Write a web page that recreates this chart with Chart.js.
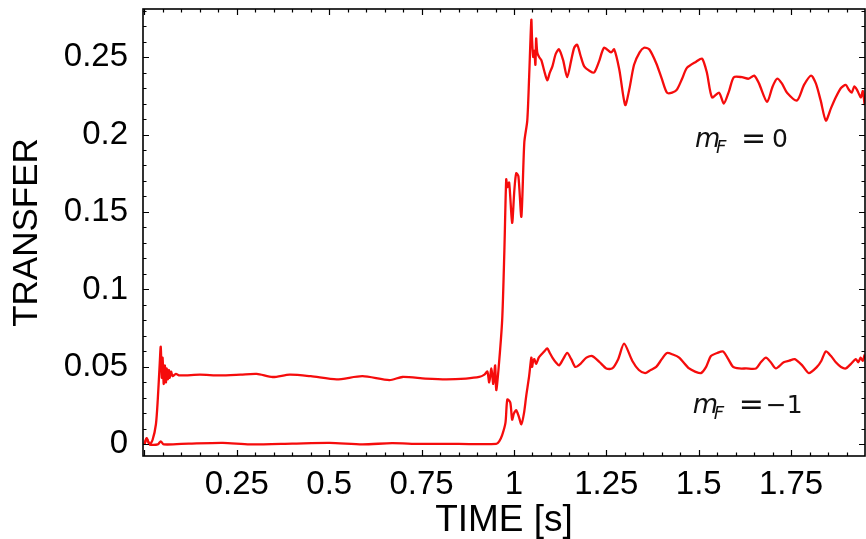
<!DOCTYPE html>
<html>
<head>
<meta charset="utf-8">
<script src="https://cdn.jsdelivr.net/npm/chart.js@4.4.1/dist/chart.umd.min.js"></script>
<style>
  body { margin: 0; background: #fff; }
  canvas { display: block; }
</style>
</head>
<body>
<canvas id="myChart" width="866" height="539"></canvas>
<script>
const timeMf0 = [0.000, 0.006, 0.014, 0.022, 0.031, 0.036, 0.041, 0.044, 0.047, 0.049, 0.052, 0.055, 0.058, 0.060, 0.063, 0.066, 0.068, 0.072, 0.076, 0.085, 0.095,
  0.150, 0.204, 0.260, 0.304, 0.347, 0.393, 0.450, 0.520, 0.590, 0.663, 0.698, 0.760, 0.817, 0.870, 0.906, 0.920, 0.928, 0.933, 0.939, 0.944, 0.949, 0.952, 0.958,
  0.968, 0.974, 0.979, 0.982, 0.987, 0.995, 1.001, 1.006, 1.012, 1.020, 1.028, 1.036, 1.041, 1.047, 1.049, 1.052, 1.055, 1.058, 1.060, 1.063,
  1.068, 1.074, 1.082, 1.090, 1.097, 1.104, 1.113, 1.122, 1.133, 1.144, 1.155, 1.163, 1.171, 1.180, 1.190, 1.205, 1.217, 1.230, 1.244, 1.263, 1.271, 1.285, 1.301, 1.312, 1.325, 1.340, 1.352, 1.366,
  1.385, 1.400, 1.414, 1.428, 1.441, 1.455, 1.468, 1.493, 1.509, 1.522, 1.536, 1.555, 1.568, 1.582, 1.595, 1.617, 1.635, 1.650, 1.663, 1.685, 1.700, 1.712, 1.725, 1.739, 1.766,
  1.785, 1.804, 1.817, 1.830, 1.844, 1.858, 1.871, 1.885, 1.898, 1.906, 1.914, 1.921, 1.928, 1.934, 1.939, 1.944, 1.949]
const transferMf0 = [0.000, 0.004, 0.000, 0.003, 0.013, 0.029, 0.051, 0.063, 0.043, 0.056, 0.039, 0.051, 0.040, 0.049, 0.042, 0.048, 0.043, 0.047, 0.044, 0.0455, 0.0445,
  0.045, 0.0445, 0.045, 0.0455, 0.0435, 0.045, 0.044, 0.042, 0.044, 0.0415, 0.0435, 0.0425, 0.042, 0.0425, 0.0435, 0.045, 0.047, 0.040, 0.049, 0.039, 0.051, 0.035, 0.048,
  0.080, 0.125, 0.171, 0.166, 0.169, 0.143, 0.164, 0.175, 0.173, 0.147, 0.195, 0.209, 0.237, 0.274, 0.261, 0.250, 0.254, 0.245, 0.262, 0.253,
  0.250, 0.248, 0.241, 0.235, 0.240, 0.244, 0.252, 0.255, 0.248, 0.237, 0.248, 0.256, 0.258, 0.251, 0.244, 0.241, 0.240, 0.247, 0.256, 0.253, 0.255, 0.242, 0.219, 0.229, 0.245, 0.253, 0.256, 0.255,
  0.246, 0.236, 0.227, 0.227, 0.229, 0.236, 0.243, 0.247, 0.249, 0.240, 0.224, 0.227, 0.220, 0.228, 0.237, 0.237, 0.236, 0.238, 0.233, 0.221, 0.231, 0.236, 0.233, 0.227, 0.222,
  0.232, 0.238, 0.233, 0.222, 0.209, 0.217, 0.224, 0.230, 0.232, 0.229, 0.227, 0.231, 0.229, 0.226, 0.224, 0.228, 0.219]

const timeMf1 = [0.000, 0.006, 0.014, 0.036, 0.044, 0.052, 0.120, 0.212, 0.285, 0.400, 0.501, 0.590, 0.670, 0.744, 0.850, 0.952, 0.960, 0.968, 0.977, 0.982,
  0.990, 0.995, 1.000, 1.006, 1.013, 1.020, 1.027, 1.033, 1.041, 1.047, 1.049, 1.052, 1.055, 1.060, 1.067, 1.074, 1.082, 1.090, 1.097, 1.104, 1.113, 1.122, 1.133, 1.144, 1.155, 1.166, 1.180, 1.196, 1.212, 1.232, 1.250,
  1.266, 1.282, 1.298, 1.320, 1.338, 1.355, 1.370, 1.385, 1.400, 1.414, 1.430, 1.447, 1.474, 1.490, 1.506, 1.520, 1.533, 1.550, 1.566, 1.580, 1.593, 1.610, 1.628, 1.655, 1.668, 1.682, 1.695, 1.709, 1.730, 1.745, 1.760,
  1.780, 1.798, 1.820, 1.832, 1.844, 1.858, 1.871, 1.885, 1.898, 1.912, 1.925, 1.932, 1.938, 1.944, 1.949]
const transferMf1 = [0.000, 0.004, 0.000, 0.000, 0.002, 0.000, 0.0005, 0.001, 0.000, 0.0005, 0.001, 0.000, 0.0008, 0.0003, 0.0003, 0.0003, 0.002, 0.006, 0.014, 0.029,
  0.027, 0.016, 0.020, 0.022, 0.018, 0.013, 0.020, 0.031, 0.044, 0.056, 0.050, 0.054, 0.055, 0.052, 0.056, 0.058, 0.060, 0.062, 0.059, 0.056, 0.053, 0.051, 0.055, 0.059, 0.055, 0.050, 0.052, 0.056, 0.057, 0.053, 0.049,
  0.049, 0.055, 0.065, 0.054, 0.048, 0.046, 0.048, 0.050, 0.055, 0.059, 0.058, 0.056, 0.049, 0.047, 0.046, 0.050, 0.057, 0.059, 0.060, 0.055, 0.050, 0.049, 0.049, 0.049, 0.053, 0.056, 0.053, 0.049, 0.053, 0.054, 0.055,
  0.051, 0.046, 0.050, 0.054, 0.060, 0.057, 0.053, 0.050, 0.049, 0.052, 0.055, 0.053, 0.056, 0.054, 0.058]

const xTickLabels = [0.25, 0.5, 0.75, 1, 1.25, 1.5, 1.75]
const yTickLabels = [0, 0.05, 0.1, 0.15, 0.2, 0.25]
const seriesLabels = [
  { value: '0', t: 1.490, v: 0.192 },
  { value: '\u22121', t: 1.484, v: 0.0203 },
]

const red = 'rgb(245,12,12)'
const toPoints = (xs, ys) => xs.map((x, i) => ({ x: x, y: ys[i] }))

// inward ticks on all four sides, frame and the m_F labels
const framePlugin = {
  id: 'frame',
  afterDraw (chart) {
    const { ctx, chartArea: a, scales } = chart
    const xs = scales.x, ys = scales.y
    ctx.save()
    ctx.strokeStyle = '#000'
    ctx.lineWidth = 1.2
    ctx.beginPath()
    for (let i = 0; i <= 40; i++) {
      const t = i * 0.05
      if (t < xs.min || t > xs.max) continue
      const px = Math.round(xs.getPixelForValue(t)) + 0.5
      const len = i % 5 === 0 ? 6 : 3.5
      ctx.moveTo(px, a.bottom); ctx.lineTo(px, a.bottom - len)
      ctx.moveTo(px, a.top); ctx.lineTo(px, a.top + len)
    }
    for (let i = 0; i <= 28; i++) {
      const v = i * 0.01
      if (v < ys.min || v > ys.max) continue
      const py = Math.round(ys.getPixelForValue(v)) + 0.5
      const len = i % 5 === 0 ? 6 : 3.5
      ctx.moveTo(a.left, py); ctx.lineTo(a.left + len, py)
      ctx.moveTo(a.right, py); ctx.lineTo(a.right - len, py)
    }
    ctx.stroke()
    ctx.lineWidth = 1.6
    ctx.strokeRect(a.left, a.top, a.right - a.left, a.bottom - a.top)

    ctx.fillStyle = '#111'
    ctx.textAlign = 'left'
    ctx.textBaseline = 'alphabetic'
    seriesLabels.forEach(l => {
      const x = xs.getPixelForValue(l.t)
      const y = ys.getPixelForValue(l.v)
      ctx.font = 'italic 26px "DejaVu Sans"'
      ctx.fillText('m', x, y)
      ctx.font = 'italic 18px "DejaVu Sans"'
      ctx.fillText('F', x + 21, y + 6)
      ctx.font = '30px "DejaVu Sans"'
      ctx.fillText('=', x + 46, y + 1)
      ctx.font = '25px "DejaVu Sans"'
      ctx.fillText(l.value, x + (l.value.length > 1 ? 73 : 77), y)
    })
    ctx.restore()
  }
}

const ctx = document.getElementById('myChart')
new Chart(ctx, {
  type: 'line',
  data: {
    datasets: [{
      label: 'mF = 0',
      data: toPoints(timeMf0, transferMf0),
      borderColor: red,
      borderWidth: 2.3,
      pointRadius: 0,
      tension: 0.25,
    }, {
      label: 'mF = -1',
      data: toPoints(timeMf1, transferMf1),
      borderColor: red,
      borderWidth: 2.3,
      pointRadius: 0,
      tension: 0.25,
    }]
  },
  options: {
    responsive: false,
    animation: false,
    devicePixelRatio: 1,
    layout: { padding: { top: 9, right: 1, left: 0, bottom: 0 } },
    plugins: { legend: { display: false }, tooltip: { enabled: false } },
    scales: {
      x: {
        type: 'linear',
        min: -0.004,
        max: 1.95,
        grid: { display: false, drawTicks: false },
        border: { display: false },
        afterFit (scale) { scale.height = 83; scale.paddingLeft = 0; scale.paddingRight = 0 },
        ticks: {
          stepSize: 0.25,
          includeBounds: false,
          maxRotation: 0,
          autoSkip: false,
          padding: 9,
          color: '#000',
          font: { family: '"Liberation Sans", Arial, sans-serif', size: 33 },
          callback: v => xTickLabels.some(l => Math.abs(l - v) < 1e-6) ? String(+v.toFixed(2)) : ''
        },
        title: {
          display: true,
          text: 'TIME [s]',
          color: '#000',
          font: { family: '"Liberation Sans", Arial, sans-serif', size: 37, lineHeight: 1 },
          padding: { top: 0, bottom: 0 }
        }
      },
      y: {
        min: -0.0075,
        max: 0.281,
        grid: { display: false, drawTicks: false },
        border: { display: false },
        afterFit (scale) { scale.width = 143; scale.paddingTop = 0; scale.paddingBottom = 0 },
        ticks: {
          stepSize: 0.05,
          includeBounds: false,
          autoSkip: false,
          padding: 15,
          color: '#000',
          font: { family: '"Liberation Sans", Arial, sans-serif', size: 33 },
          callback: v => yTickLabels.some(l => Math.abs(l - v) < 1e-6) ? String(+v.toFixed(2)) : ''
        },
        title: {
          display: true,
          text: 'TRANSFER',
          color: '#000',
          font: { family: '"Liberation Sans", Arial, sans-serif', size: 35, lineHeight: 1 },
          padding: { top: 10, bottom: 0 }
        }
      }
    }
  },
  plugins: [framePlugin]
})
</script>
</body>
</html>
